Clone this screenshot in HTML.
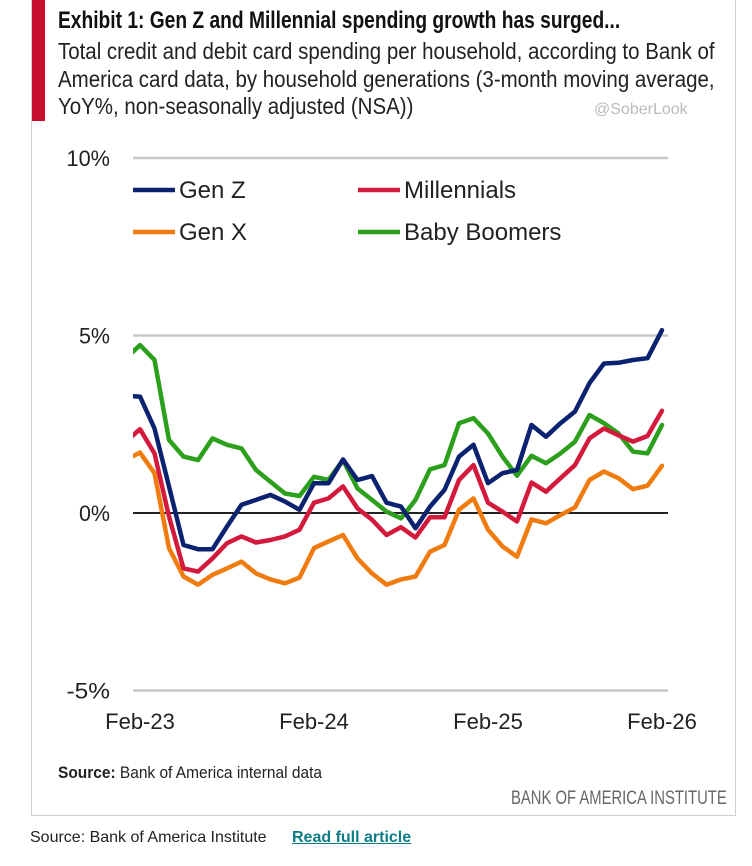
<!DOCTYPE html>
<html><head><meta charset="utf-8">
<style>
body{margin:0;width:752px;height:866px;background:#fff;position:relative;overflow:hidden;font-family:"Liberation Sans",sans-serif;}
.abs{position:absolute;white-space:nowrap;}
.sq{transform-origin:0 0;}
</style></head>
<body>
<div class="abs" style="left:31px;top:-1px;width:703px;height:815px;border:1px solid #cfcfcf;"></div>
<div class="abs" style="left:32px;top:0;width:13px;height:121px;background:#c8102e;"></div>
<div class="abs sq" style="left:58px;top:7px;font-size:24px;font-weight:bold;color:#111;transform:scaleX(0.80);">Exhibit 1: Gen Z and Millennial spending growth has surged...</div>
<div class="abs sq" style="left:58px;top:38px;font-size:23px;line-height:27.5px;color:#222;transform:scaleX(0.89);">Total credit and debit card spending per household, according to Bank of<br>America card data, by household generations (3-month moving average,<br>YoY%, non-seasonally adjusted (NSA))</div>
<div class="abs" style="left:594px;top:101px;font-size:16px;color:#bbb;">@SoberLook</div>
<svg class="abs" style="left:0;top:0" width="752" height="866">
<g id="grid"></g><g id="lines"></g><g id="labels"></g><g id="legend"></g>
</svg>
<div class="abs sq" style="left:58px;top:763px;font-size:17px;color:#222;transform:scaleX(0.91);"><b>Source:</b> Bank of America internal data</div>
<div class="abs sq" style="left:511px;top:788px;font-size:19px;color:#666;transform:scaleX(0.78);">BANK OF AMERICA INSTITUTE</div>
<div class="abs" style="left:30px;top:829px;font-size:16px;color:#222;">Source: Bank of America Institute</div>
<a class="abs" href="#" style="left:292px;top:829px;font-size:16px;color:#0e7c86;font-weight:bold;text-decoration:underline;">Read full article</a>
<script>
const yTicks=[10,5,0,-5];
const yTickLabels=["10%","5%","0%","-5%"];
const xTickIdx=[1,13,25,37];
const xTickLabels=["Feb-23","Feb-24","Feb-25","Feb-26"];
const genZ=[3.3,3.28,2.38,0.75,-0.9,-1.02,-1.02,-0.38,0.23,0.37,0.51,0.32,0.09,0.84,0.84,1.51,0.93,1.04,0.29,0.18,-0.43,0.18,0.65,1.59,1.92,0.84,1.12,1.21,2.48,2.15,2.53,2.86,3.66,4.21,4.23,4.31,4.36,5.15];
const millennials=[2.0,2.36,1.68,-0.1,-1.56,-1.65,-1.28,-0.85,-0.66,-0.83,-0.76,-0.66,-0.47,0.29,0.41,0.75,0.13,-0.19,-0.62,-0.4,-0.69,-0.12,-0.12,0.93,1.35,0.29,0.04,-0.24,0.86,0.6,0.98,1.35,2.1,2.38,2.19,2.01,2.17,2.88];
const genX=[1.5,1.7,1.12,-0.99,-1.79,-2.02,-1.74,-1.56,-1.37,-1.7,-1.87,-1.98,-1.82,-0.99,-0.8,-0.62,-1.28,-1.7,-2.02,-1.87,-1.79,-1.09,-0.9,0.09,0.41,-0.47,-0.94,-1.23,-0.18,-0.29,-0.06,0.16,0.93,1.17,0.98,0.67,0.77,1.33];
const boomers=[4.35,4.73,4.31,2.06,1.59,1.49,2.1,1.92,1.82,1.21,0.88,0.55,0.48,1.02,0.93,1.49,0.69,0.37,0.04,-0.15,0.37,1.23,1.35,2.53,2.67,2.24,1.59,1.05,1.61,1.4,1.68,2.01,2.76,2.53,2.24,1.73,1.68,2.48];
const NS="http://www.w3.org/2000/svg";
function X(i){return 125.5+14.5*i;}
function Y(v){return 513-35.5*v;}
function mk(t,a,p){const e=document.createElementNS(NS,t);for(const k in a)e.setAttribute(k,a[k]);p.appendChild(e);return e;}
const grid=document.getElementById('grid'),lines=document.getElementById('lines'),labels=document.getElementById('labels'),legend=document.getElementById('legend');
const defs=mk('defs',{},grid);const cp=mk('clipPath',{id:'plot'},defs);mk('rect',{x:133,y:100,width:560,height:620},cp);
const FF='Liberation Sans, sans-serif';
yTicks.forEach((v,k)=>{
  const l=mk('line',{x1:133,x2:668,y1:Y(v),y2:Y(v),stroke:v===0?'#222':'#c8c8c8','stroke-width':v===0?2:2.5},grid);
  
  
  const t=mk('text',{x:110,y:Y(v)+8,'text-anchor':'end','font-size':22,fill:'#222','font-family':FF,'textLength':(yTickLabels[k].length*12.5+6),'lengthAdjust':'spacingAndGlyphs'},labels);
  t.textContent=yTickLabels[k];
  
  
});
xTickIdx.forEach((i,k)=>{
  const t=mk('text',{x:X(i),y:729,'text-anchor':'middle','font-size':22,fill:'#222','font-family':FF},labels);
  t.textContent=xTickLabels[k];
  
  
});
const series=[[boomers,'#2ca01c','baby-boomers-line'],[genX,'#f07b0f','gen-x-line'],[millennials,'#d41a3c','millennials-line'],[genZ,'#0a2270','gen-z-line']];
series.forEach(s=>{
  const d=s[0].map((v,i)=>(i?'L':'M')+X(i).toFixed(1)+' '+Y(v).toFixed(1)).join(' ');
  const p=mk('path',{d:d,fill:'none',stroke:s[1],'stroke-width':4.5,'stroke-linejoin':'round','stroke-linecap':'round','clip-path':'url(#plot)'},lines);
  
  
});
const leg=[['Gen Z','#0a2270',133,190],['Millennials','#d41a3c',358,190],['Gen X','#f07b0f',133,232],['Baby Boomers','#2ca01c',358,232]];
leg.forEach(e=>{
  const g=mk('g',{},legend);
  
  
  mk('line',{x1:e[2],x2:e[2]+42,y1:e[3],y2:e[3],stroke:e[1],'stroke-width':4.5},g);
  const t=mk('text',{x:e[2]+46,y:e[3]+8,'font-size':24,fill:'#222','font-family':FF},g);
  t.textContent=e[0];
});
</script>
</body></html>
